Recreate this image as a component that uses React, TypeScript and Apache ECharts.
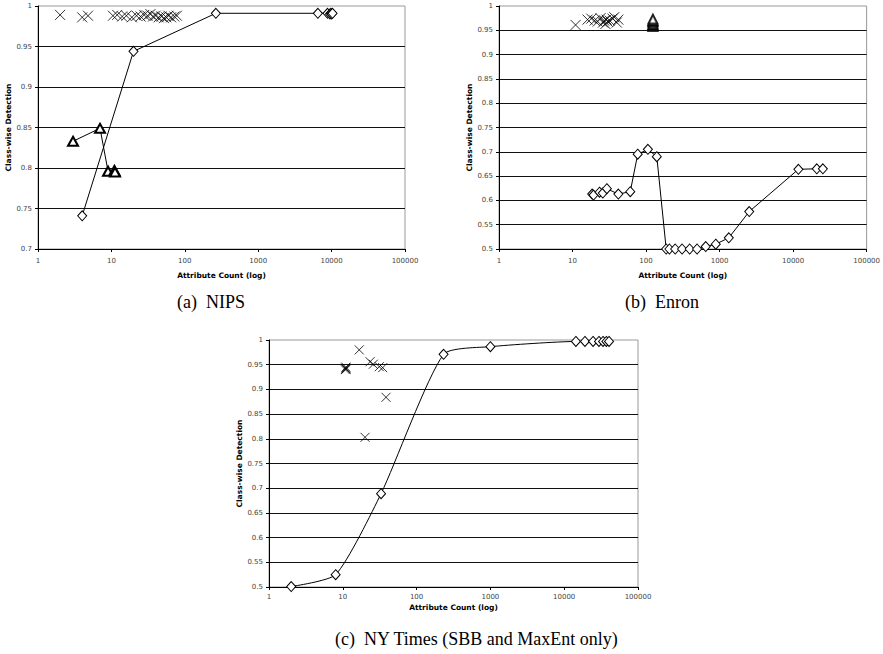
import React, { useEffect, useRef } from "react";
import * as echarts from "echarts";

// ---------- Data ----------
const xTickLabels = ["1", "10", "100", "1000", "10000", "100000"];

// (a) NIPS
const nipsCrossX = [2, 4, 4.8, 10.5, 12, 14, 16, 19, 22, 25, 28, 31, 34, 37, 40, 44, 48, 52, 56, 60, 65, 72, 78];
const nipsCrossY = [0.989, 0.986, 0.988, 0.988, 0.989, 0.987, 0.988, 0.986, 0.988, 0.987, 0.989, 0.988, 0.99, 0.987, 0.988, 0.986, 0.987, 0.985, 0.986, 0.988, 0.986, 0.987, 0.988];
const nipsDiamondX = [4, 20, 265, 6500, 8800, 9500, 9800, 10000, 10300];
const nipsDiamondY = [0.741, 0.944, 0.991, 0.991, 0.991, 0.99, 0.991, 0.99, 0.991];
const nipsTriangleX = [3, 7, 9, 11, 11.2];
const nipsTriangleY = [0.833, 0.849, 0.796, 0.797, 0.795];

// (b) Enron
const enronCrossX = [11, 16, 18, 20, 22, 24, 26, 27, 28, 29, 30, 32, 35, 37, 40, 42];
const enronCrossY = [0.961, 0.972, 0.974, 0.97, 0.968, 0.975, 0.966, 0.97, 0.963, 0.972, 0.968, 0.97, 0.974, 0.977, 0.966, 0.972];
const enronTriangleX = [124, 124, 124, 124, 124, 124, 124];
const enronTriangleY = [0.958, 0.96, 0.962, 0.965, 0.968, 0.97, 0.973];
const enronDiamondX = [18.5, 19.3, 23.3, 25.8, 29.3, 42, 61, 77, 106, 140, 188, 208, 249, 309, 392, 494, 648, 887, 1335, 2530, 11800, 21000, 25400];
const enronDiamondY = [0.613, 0.611, 0.617, 0.615, 0.624, 0.613, 0.618, 0.695, 0.705, 0.69, 0.5, 0.5, 0.5, 0.5, 0.5, 0.5, 0.505, 0.51, 0.523, 0.577, 0.664, 0.665, 0.665];

// (c) NY Times
const nytCrossX = [16.7, 10.8, 11, 11.1, 11, 23.4, 25.9, 31.2, 34.7, 38.5, 20];
const nytCrossY = [0.98, 0.94, 0.943, 0.941, 0.945, 0.956, 0.951, 0.946, 0.944, 0.884, 0.803];
const nytDiamondX = [2, 8, 33, 232, 1000, 14400, 19100, 24600, 29600, 33600, 37300, 40500];
const nytDiamondY = [0.501, 0.525, 0.689, 0.971, 0.9865, 0.997, 0.997, 0.997, 0.997, 0.997, 0.997, 0.997];

const captions = ["(a)  NIPS", "(b)  Enron", "(c)  NY Times (SBB and MaxEnt only)"];
const xAxisTitle = "Attribute Count (log)";
const yAxisTitle = "Class-wise Detection";

// ---------- Helpers ----------
const pair = (xs: number[], ys: number[]) => xs.map((x, i) => [x, ys[i]]);
const CROSS = "path://M0,0L10,10M10,0L0,10";
const sans = "DejaVu Sans";
const serif = "Liberation Serif";

const grids = [
  { left: 38, top: 6, width: 367, height: 243 },
  { left: 499, top: 6, width: 368, height: 243 },
  { left: 269, top: 340, width: 369, height: 247 },
];
const yMins = [0.7, 0.5, 0.5];
const labelMargins = [8, 8, 6];
const nameGaps = [22, 22, 16];

function makeX(i: number) {
  return {
    type: "log",
    logBase: 10,
    gridIndex: i,
    min: 1,
    max: 100000,
    name: xAxisTitle,
    nameLocation: "middle",
    nameGap: nameGaps[i],
    nameTextStyle: { fontFamily: sans, fontWeight: "bold", fontSize: 7.5, color: "#000" },
    axisLine: { show: true, lineStyle: { color: "#000", width: 1 } },
    axisTick: { show: true, length: 3, lineStyle: { color: "#000" } },
    axisLabel: {
      fontFamily: sans,
      fontSize: 7,
      color: "#444",
      margin: labelMargins[i],
      formatter: (v: number) => {
        const k = Math.round(Math.log10(v));
        return xTickLabels[k] ?? String(v);
      },
    },
    splitLine: { show: false },
    minorTick: { show: false },
  };
}

function makeY(i: number) {
  return {
    type: "value",
    gridIndex: i,
    min: yMins[i],
    max: 1,
    interval: 0.05,
    name: yAxisTitle,
    nameLocation: "middle",
    nameRotate: 90,
    nameGap: 22,
    nameTextStyle: { fontFamily: sans, fontWeight: "bold", fontSize: 7.5, color: "#000" },
    axisLine: { show: true, lineStyle: { color: "#000", width: 1 } },
    axisTick: { show: true, length: 3, lineStyle: { color: "#000" } },
    axisLabel: {
      fontFamily: sans,
      fontSize: 7,
      color: "#444",
      margin: 6,
      formatter: (v: number) => String(+v.toFixed(2)),
    },
    splitLine: { show: true, showMaxLine: false, lineStyle: { color: "#111", width: 1 } },
  };
}

const crossSeries = (i: number, xs: number[], ys: number[], size = 10) => ({
  type: "scatter",
  xAxisIndex: i,
  yAxisIndex: i,
  symbol: CROSS,
  symbolSize: size,
  itemStyle: { color: "rgba(0,0,0,0)", borderColor: "#000", borderWidth: 1 },
  data: pair(xs, ys),
  z: 3,
});

const lineSeries = (i: number, xs: number[], ys: number[], symbol: string, size: any, bw: number, smooth: any = false) => ({
  type: "line",
  xAxisIndex: i,
  yAxisIndex: i,
  symbol,
  symbolSize: size,
  showAllSymbol: true,
  smooth,
  lineStyle: { color: "#000", width: 1 },
  itemStyle: { color: "#fff", borderColor: "#000", borderWidth: bw },
  data: pair(xs, ys),
  z: 4,
});

export default function App() {
  const ref = useRef<HTMLDivElement>(null);
  useEffect(() => {
    if (!ref.current) return;
    const chart = echarts.init(ref.current, null, { renderer: "svg" });
    const capStyle = (t: string) => ({ text: t, font: `18px "${serif}"`, fill: "#000", align: "left", verticalAlign: "middle" });
    const option: any = {
      animation: false,
      backgroundColor: "#fff",
      grid: grids.map((g) => ({ ...g, show: true, borderColor: "#999", borderWidth: 1, backgroundColor: "#fff" })),
      xAxis: [0, 1, 2].map(makeX),
      yAxis: [0, 1, 2].map(makeY),
      series: [
        crossSeries(0, nipsCrossX, nipsCrossY, 10),
        lineSeries(0, nipsDiamondX, nipsDiamondY, "diamond", [9, 10], 1),
        lineSeries(0, nipsTriangleX, nipsTriangleY, "triangle", [10, 9], 2),
        crossSeries(1, enronCrossX, enronCrossY, 10),
        lineSeries(1, enronDiamondX, enronDiamondY, "diamond", [9, 10], 1),
        {
          type: "scatter",
          xAxisIndex: 1,
          yAxisIndex: 1,
          symbol: "triangle",
          symbolSize: [9, 9],
          itemStyle: { color: "#fff", borderColor: "#000", borderWidth: 2 },
          data: pair(enronTriangleX, enronTriangleY),
          z: 5,
        },
        crossSeries(2, nytCrossX, nytCrossY, 9),
        lineSeries(2, nytDiamondX, nytDiamondY, "diamond", [9, 10], 1, 0.2),
      ],
      graphic: [
        { type: "text", x: 177, y: 302, style: capStyle(captions[0]) },
        { type: "text", x: 625, y: 302, style: capStyle(captions[1]) },
        { type: "text", x: 335, y: 639, style: capStyle(captions[2]) },
      ],
    };
    chart.setOption(option);
    return () => chart.dispose();
  }, []);
  return <div ref={ref} style={{ position: "fixed", left: 0, top: 0, width: 883, height: 654 }} />;
}
